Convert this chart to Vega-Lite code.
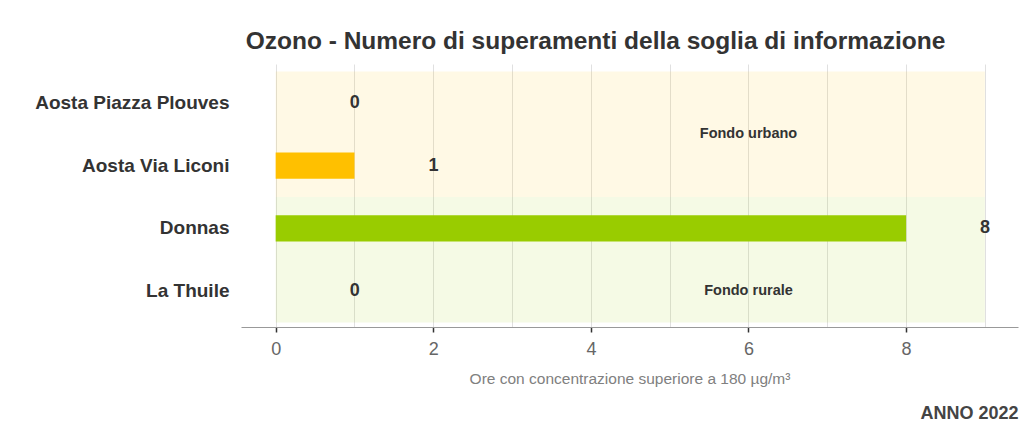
{
  "$schema": "https://vega.github.io/schema/vega-lite/v6.json",
  "width": 777,
  "height": 263,
  "autosize": {"type": "none"},
  "padding": {"left": 241, "top": 64, "right": 6, "bottom": 105},
  "background": "white",
  "config": {"font": "Liberation Sans", "view": {"stroke": null}},
  "title": {
    "text": "Ozono - Numero di superamenti della soglia di informazione",
    "fontSize": 24.5, "fontWeight": "bold", "color": "#333333",
    "anchor": "middle", "dx": -34, "offset": 10
  },
  "datasets": {
    "stazioni": [
      {"stazione": "Aosta Piazza Plouves", "valore": 0, "zona": "Fondo urbano"},
      {"stazione": "Aosta Via Liconi", "valore": 1, "zona": "Fondo urbano"},
      {"stazione": "Donnas", "valore": 8, "zona": "Fondo rurale"},
      {"stazione": "La Thuile", "valore": 0, "zona": "Fondo rurale"}
    ],
    "zone": [
      {"zona": "Fondo urbano"},
      {"zona": "Fondo rurale"}
    ]
  },
  "layer": [
    {
      "data": {"name": "zone"},
      "layer": [
        {
          "mark": {"type": "rect", "opacity": 0.1},
          "encoding": {
            "y": {"field": "zona", "type": "nominal", "sort": ["Fondo urbano", "Fondo rurale"],
                  "scale": {"paddingInner": 0, "paddingOuter": 0.048, "align": 0.63}, "axis": null},
            "x": {"datum": 0, "type": "quantitative",
                  "scale": {"domain": [-0.44, 9.42], "nice": false, "zero": false},
                  "axis": {
                    "values": [0, 1, 2, 3, 4, 5, 6, 7, 8, 9],
                    "format": "d",
                    "labelExpr": "datum.value % 2 === 0 ? datum.label : ''",
                    "tickOpacity": {"expr": "datum.value % 2 === 0 ? 1 : 0"},
                    "grid": true, "gridColor": "#e0e0e0",
                    "domainColor": "#999999",
                    "tickColor": "#333333", "tickSize": 5, "tickWidth": 1.5,
                    "labelFontSize": 18, "labelColor": "#666666", "labelPadding": 8,
                    "title": "Ore con concentrazione superiore a 180 µg/m³",
                    "titleFontSize": 15.5, "titleFontWeight": "normal", "titleColor": "#808080",
                    "titlePadding": 13
                  }},
            "x2": {"datum": 9},
            "color": {"field": "zona", "type": "nominal",
                      "scale": {"domain": ["Fondo urbano", "Fondo rurale"], "range": ["#FFC000", "#99CC00"]},
                      "legend": null}
          }
        },
        {
          "transform": [{"filter": "datum.zona === 'Fondo urbano'"}],
          "mark": {"type": "text", "fontSize": 14.5, "fontWeight": "bold", "color": "#333333"},
          "encoding": {
            "y": {"field": "zona", "type": "nominal", "sort": ["Fondo urbano", "Fondo rurale"]},
            "x": {"datum": 6, "type": "quantitative"},
            "text": {"field": "zona"}
          }
        }
      ]
    },
    {
      "data": {"name": "stazioni"},
      "layer": [
        {
          "mark": {"type": "bar", "height": {"band": 0.42}},
          "encoding": {
            "y": {"field": "stazione", "type": "nominal", "sort": null,
                  "scale": {"paddingInner": 0, "paddingOuter": 0.096, "align": 0.63},
                  "axis": {"orient": "left", "title": null, "domain": false, "ticks": false, "grid": false,
                           "labelFontSize": 19, "labelFontWeight": "bold", "labelColor": "#333333",
                           "labelPadding": 12, "labelLimit": 400}},
            "x": {"field": "valore", "type": "quantitative",
                  "scale": {"domain": [-0.44, 9.42], "nice": false, "zero": false},
                  "axis": {"orient": "bottom", "labels": false, "ticks": false, "domain": false, "grid": false,
                           "title": "ANNO 2022", "titleAnchor": "end", "titleAlign": "right",
                           "titleFontSize": 18, "titleFontWeight": "bold", "titleColor": "#444444",
                           "titlePadding": 77}},
            "color": {"field": "zona", "type": "nominal", "legend": null}
          }
        },
        {
          "mark": {"type": "text", "dx": 79, "align": "center", "baseline": "middle",
                   "fontSize": 18, "fontWeight": "bold", "color": "#333333"},
          "encoding": {
            "y": {"field": "stazione", "type": "nominal", "sort": null},
            "x": {"field": "valore", "type": "quantitative"},
            "text": {"field": "valore", "type": "quantitative"}
          }
        },
        {
          "transform": [{"filter": "datum.stazione === 'La Thuile'"}],
          "mark": {"type": "text", "align": "center", "baseline": "middle",
                   "fontSize": 14.5, "fontWeight": "bold", "color": "#333333"},
          "encoding": {
            "y": {"field": "stazione", "type": "nominal", "sort": null},
            "x": {"datum": 6, "type": "quantitative"},
            "text": {"field": "zona"}
          }
        }
      ]
    }
  ],
  "resolve": {
    "scale": {"x": "independent", "y": "independent", "color": "shared"},
    "axis": {"x": "independent", "y": "independent"}
  }
}
